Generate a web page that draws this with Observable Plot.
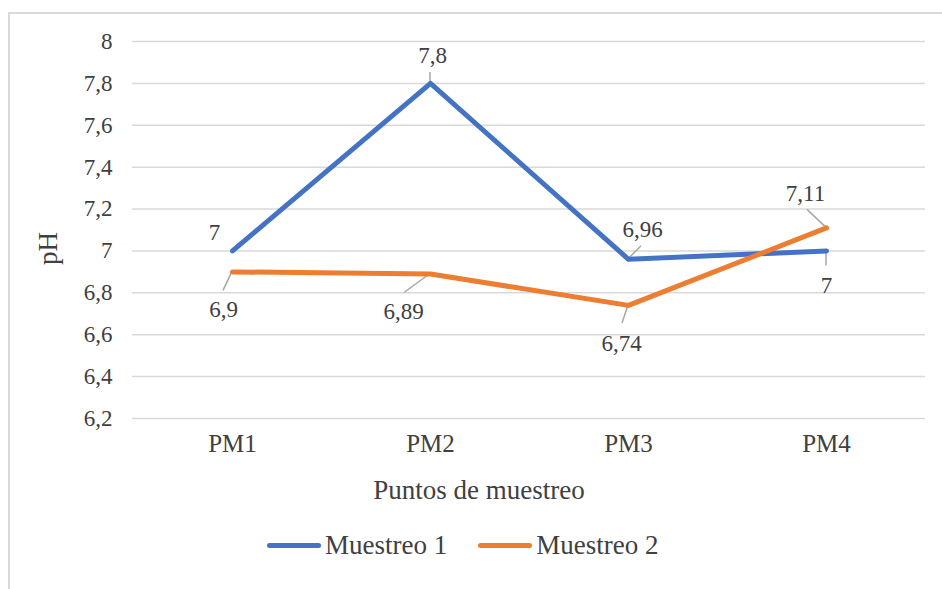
<!DOCTYPE html>
<html>
<head>
<meta charset="utf-8">
<script src="https://cdn.jsdelivr.net/npm/d3@7"></script>
<script src="https://cdn.jsdelivr.net/npm/@observablehq/plot@0.6"></script>
<style>
  html, body { margin: 0; padding: 0; background: #fff; overflow: hidden; }
  #wrap { position: relative; width: 942px; height: 589px; overflow: hidden; font-family: "Liberation Serif", "Times New Roman", serif; color: #404040; }
  #frame { position: absolute; left: 8px; top: 12px; width: 1000px; height: 1000px; border: 2px solid #d9d9d9; box-sizing: border-box; pointer-events: none; }
  #chart { position: absolute; left: 0; top: 0; }
  #chart text { font-family: "Liberation Serif", "Times New Roman", serif; }
  #legend { position: absolute; left: 267px; top: 530px; height: 30px; display: flex; align-items: center; font-size: 27px; line-height: 30px; }
  .item { display: flex; align-items: center; margin-right: 31px; }
  .swatch { width: 54px; height: 5px; border-radius: 3px; margin-right: 4px; }
</style>
</head>
<body>
<div id="wrap">
  <div id="frame"></div>
  <div id="chart"></div>
  <div id="legend"></div>
</div>
<script>
// Sampling points and pH readings for each sampling campaign
const puntos = ["PM1", "PM2", "PM3", "PM4"];
const muestreo1 = [7, 7.8, 6.96, 7];
const muestreo2 = [6.9, 6.89, 6.74, 7.11];
const seriesNames = ["Muestreo 1", "Muestreo 2"];
const seriesColors = ["#4472C4", "#ED7D31"];
const yTicks = [6.2, 6.4, 6.6, 6.8, 7, 7.2, 7.4, 7.6, 7.8, 8];
const xTitle = "Puntos de muestreo";
const yTitle = "pH";

// Data-label placement (pixel offsets of each label and the end of its leader line)
const labelOffsets = [
  [[-18, -18], [2, -28], [14, -30], [0, 35]],
  [[-9, 38], [-27, 38], [-7, 38], [-21, -34]]
];
const leaderEnds = [
  [null, [0, -11], [13, -13], [0, 15]],
  [[-9, 19], [-26, 19], [-6, 18], [-19, -18]]
];

const fmt = v => String(v).replace(".", ",");

const rows = [];
[muestreo1, muestreo2].forEach((vals, s) => {
  vals.forEach((v, i) => rows.push({serie: seriesNames[s], punto: puntos[i], ph: v, s, i}));
});

const labelMarks = rows.map(r => {
  const [dx, dy] = labelOffsets[r.s][r.i];
  return Plot.text([r], {x: "punto", y: "ph", text: d => fmt(d.ph), dx, dy,
    fontSize: 23, fill: "#404040", lineAnchor: "middle"});
});

const plot = Plot.plot({
  width: 942,
  height: 520,
  marginLeft: 132,
  marginRight: 17,
  marginTop: 41,
  marginBottom: 102,
  style: {fontFamily: "'Liberation Serif', 'Times New Roman', serif", fontSize: "23px", color: "#404040", background: "transparent"},
  x: {type: "point", domain: puntos, padding: 0.5},
  y: {domain: [6.2, 8]},
  color: {domain: seriesNames, range: seriesColors},
  marks: [
    Plot.ruleY(yTicks, {stroke: "#d9d9d9", strokeWidth: 1.5}),
    Plot.axisY({ticks: yTicks, tickSize: 0, tickPadding: 20, tickFormat: fmt, fontSize: 23, label: null}),
    Plot.axisX({tickSize: 0, tickPadding: 16, fontSize: 25, label: null}),
    Plot.line(rows, {x: "punto", y: "ph", z: "serie", stroke: "serie", strokeWidth: 5,
      strokeLinecap: "round", strokeLinejoin: "round"}),
    ...labelMarks,
    Plot.text([xTitle], {frameAnchor: "bottom", text: d => d, dx: -50, dy: 80, fontSize: 27, fill: "#404040"}),
    Plot.text([yTitle], {frameAnchor: "left", text: d => d, rotate: -90, textAnchor: "middle",
      lineAnchor: "middle", dx: -84, dy: 18.5, fontSize: 27, fill: "#404040"})
  ]
});

// Leader lines from each point to its data label, positioned with the plot's scales
const sx = plot.scale("x"), sy = plot.scale("y");
const leaders = d3.select(plot).append("g").attr("stroke", "#a6a6a6").attr("stroke-width", 1.5);
rows.forEach(r => {
  const end = leaderEnds[r.s][r.i];
  if (!end) return;
  const px = sx.apply(r.punto), py = sy.apply(r.ph);
  leaders.append("line")
    .attr("x1", px).attr("y1", py)
    .attr("x2", px + end[0]).attr("y2", py + end[1]);
});
// keep the lines drawn above the leaders
const lineGroup = plot.querySelector("g[aria-label='line']");
if (lineGroup) plot.appendChild(lineGroup);

document.getElementById("chart").appendChild(plot);

// Legend below the chart
const legend = d3.select("#legend");
seriesNames.forEach((name, k) => {
  const item = legend.append("div").attr("class", "item");
  item.append("div").attr("class", "swatch").style("background", seriesColors[k]);
  item.append("span").text(name);
});
</script>
</body>
</html>
